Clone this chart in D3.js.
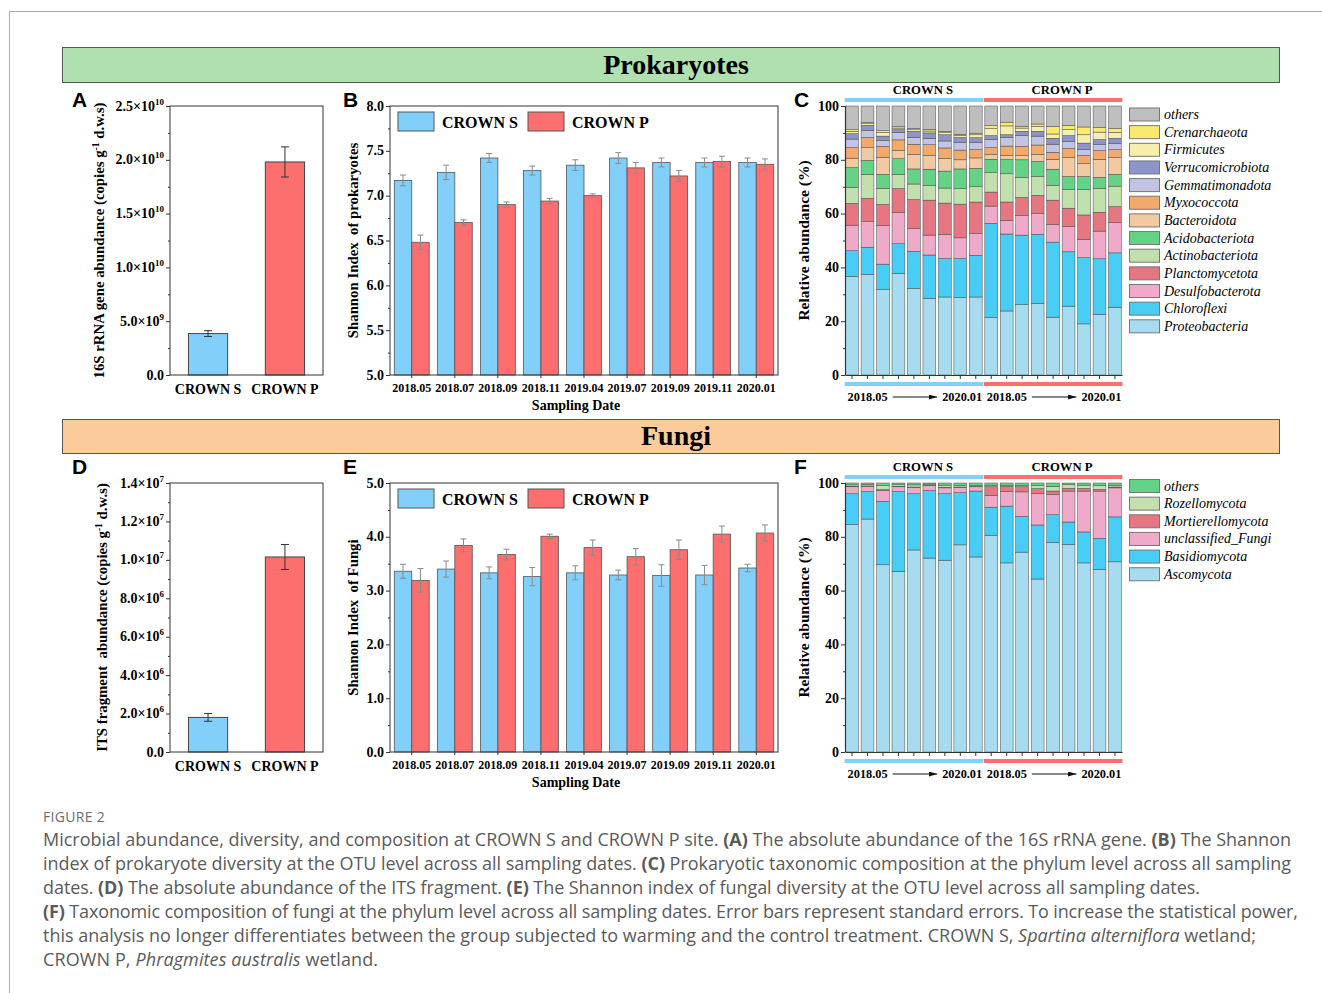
<!DOCTYPE html>
<html>
<head>
<meta charset="utf-8">
<script src="https://cdn.jsdelivr.net/npm/d3@7"></script>
<style>
  body { margin: 0; background: #fff; }
  text { white-space: pre; }
</style>
</head>
<body>
<svg id="fig" width="1322" height="993"></svg>
<script>
// ---- data ----
const sites = ["CROWN S", "CROWN P"];
const dates = ["2018.05", "2018.07", "2018.09", "2018.11", "2019.04", "2019.07", "2019.09", "2019.11", "2020.01"];

// A: 16S rRNA gene abundance
const prokAbund = [3.85e9, 1.98e10];
const prokAbundErr = [0.27e9, 0.14e10];
const prokAbundTicks = [0, 5e9, 1e10, 1.5e10, 2e10, 2.5e10];
const prokAbundLabels = [["0.0", ""], ["5.0×10", "9"], ["1.0×10", "10"], ["1.5×10", "10"], ["2.0×10", "10"], ["2.5×10", "10"]];

// D: ITS fragment abundance
const fungAbund = [1.8e6, 1.015e7];
const fungAbundErr = [0.2e6, 0.065e7];
const fungAbundTicks = [0, 2e6, 4e6, 6e6, 8e6, 1e7, 1.2e7, 1.4e7];
const fungAbundLabels = [["0.0", ""], ["2.0×10", "6"], ["4.0×10", "6"], ["6.0×10", "6"], ["8.0×10", "6"], ["1.0×10", "7"], ["1.2×10", "7"], ["1.4×10", "7"]];

// B: Shannon index, prokaryotes
const prokShannonS = [7.17, 7.26, 7.42, 7.28, 7.34, 7.42, 7.37, 7.37, 7.37];
const prokShannonSErr = [0.06, 0.08, 0.05, 0.05, 0.06, 0.06, 0.05, 0.05, 0.05];
const prokShannonP = [6.48, 6.70, 6.90, 6.94, 7.00, 7.31, 7.22, 7.38, 7.35];
const prokShannonPErr = [0.08, 0.03, 0.03, 0.03, 0.02, 0.06, 0.06, 0.06, 0.06];
const prokShannonTicks = [5.0, 5.5, 6.0, 6.5, 7.0, 7.5, 8.0];

// E: Shannon index, fungi
const fungShannonS = [3.36, 3.40, 3.33, 3.26, 3.33, 3.29, 3.28, 3.29, 3.42];
const fungShannonSErr = [0.13, 0.15, 0.11, 0.17, 0.13, 0.09, 0.20, 0.18, 0.07];
const fungShannonP = [3.19, 3.84, 3.67, 4.01, 3.80, 3.63, 3.76, 4.05, 4.07];
const fungShannonPErr = [0.22, 0.12, 0.10, 0.04, 0.14, 0.15, 0.18, 0.15, 0.15];
const fungShannonTicks = [0, 1, 2, 3, 4, 5];

// C: prokaryotic phyla (%), 9 CROWN S samples then 9 CROWN P samples
const prokTaxa = ["Proteobacteria", "Chloroflexi", "Desulfobacterota", "Planctomycetota", "Actinobacteriota", "Acidobacteriota",
  "Bacteroidota", "Myxococcota", "Gemmatimonadota", "Verrucomicrobiota", "Firmicutes", "Crenarchaeota", "others"];
const proteobacteria = [36.7, 37.4, 31.7, 37.8, 32.2, 28.5, 29.0, 28.8, 29.0, 21.4, 23.8, 26.2, 26.6, 21.5, 25.6, 19.0, 22.6, 25.2];
const chloroflexi = [9.5, 10.1, 9.5, 11.0, 13.8, 16.1, 14.3, 14.5, 15.5, 35.0, 28.6, 25.8, 25.7, 27.9, 20.2, 24.6, 20.6, 20.2];
const desulfobacterota = [9.5, 9.5, 14.4, 11.6, 8.5, 7.4, 9.0, 7.7, 8.1, 6.4, 5.1, 7.3, 7.7, 6.6, 9.4, 6.8, 10.3, 11.2];
const planctomycetota = [8.1, 8.7, 7.8, 8.9, 10.7, 13.0, 11.6, 12.5, 11.7, 5.2, 6.8, 6.7, 6.8, 9.0, 6.8, 9.1, 7.0, 6.0];
const actinobacteriota = [6.0, 8.9, 6.0, 5.3, 5.8, 5.5, 5.6, 5.8, 5.7, 7.2, 10.5, 7.5, 7.0, 5.5, 7.0, 9.5, 8.9, 7.6];
const acidobacteriota = [7.3, 5.2, 5.2, 5.8, 5.6, 6.0, 6.3, 7.3, 6.8, 5.0, 5.3, 6.5, 5.6, 6.0, 4.8, 4.8, 4.1, 4.4];
const bacteroidota = [3.5, 4.7, 6.3, 3.1, 5.4, 5.1, 4.7, 3.4, 3.9, 1.8, 1.5, 1.6, 2.6, 3.7, 7.0, 4.8, 6.7, 6.2];
const myxococcota = [3.9, 3.8, 4.1, 3.9, 3.8, 4.0, 3.9, 3.6, 3.1, 2.5, 3.5, 3.4, 3.5, 2.6, 3.4, 3.0, 3.2, 3.0];
const gemmatimonadota = [3.2, 2.5, 2.2, 2.8, 2.4, 2.4, 2.6, 2.9, 2.7, 3.1, 3.2, 4.0, 3.3, 3.0, 2.6, 2.2, 2.2, 2.2];
const verrucomicrobiota = [2.0, 2.0, 1.6, 1.0, 2.4, 2.0, 2.3, 1.8, 1.7, 1.4, 1.0, 1.6, 1.8, 2.2, 2.2, 2.4, 1.9, 2.0];
const firmicutes = [0.9, 0.6, 1.4, 0.6, 0.6, 0.7, 0.8, 0.7, 1.1, 2.6, 3.3, 1.2, 1.8, 1.6, 2.2, 3.1, 2.8, 2.2];
const crenarchaeota = [0.6, 0.4, 0.6, 0.5, 0.4, 0.6, 0.5, 0.5, 0.6, 1.1, 1.4, 0.7, 0.9, 2.8, 1.6, 2.9, 1.7, 1.4];
const prokOthers = [8.8, 6.2, 9.2, 7.7, 8.4, 8.7, 9.4, 10.5, 10.1, 7.3, 6.0, 7.5, 6.7, 7.6, 7.2, 7.8, 8.0, 8.4];

// F: fungal phyla (%)
const fungTaxa = ["Ascomycota", "Basidiomycota", "unclassified_Fungi", "Mortierellomycota", "Rozellomycota", "others"];
const ascomycota = [84.6, 86.6, 69.6, 67.2, 75.1, 72.1, 71.3, 77.0, 72.5, 80.6, 70.3, 74.3, 64.3, 77.9, 77.2, 70.3, 67.9, 70.7];
const basidiomycota = [11.4, 10.2, 23.6, 29.6, 20.9, 25.1, 24.7, 19.4, 24.5, 10.4, 21.1, 13.3, 20.1, 10.3, 8.3, 11.5, 11.5, 16.7];
const unclassifiedFungi = [2.6, 2.0, 4.0, 1.8, 2.3, 1.8, 2.2, 2.0, 1.6, 4.4, 5.4, 9.1, 11.6, 7.6, 11.5, 15.2, 17.6, 10.8];
const mortierellomycota = [0.2, 0.1, 0.3, 0.2, 0.2, 0.2, 0.2, 0.1, 0.1, 3.2, 1.9, 1.9, 1.9, 1.2, 1.0, 1.0, 0.6, 0.3];
const rozellomycota = [0.5, 0.5, 1.5, 0.6, 0.8, 0.4, 0.8, 0.5, 0.3, 0.4, 0.4, 0.4, 1.1, 1.8, 1.4, 1.2, 1.4, 0.7];
const fungOthers = [0.7, 0.6, 1.0, 0.6, 0.7, 0.4, 0.8, 1.0, 1.0, 1.0, 0.9, 1.0, 1.0, 1.2, 0.6, 0.8, 1.0, 0.8];

const prokSeries = [proteobacteria, chloroflexi, desulfobacterota, planctomycetota, actinobacteriota, acidobacteriota,
  bacteroidota, myxococcota, gemmatimonadota, verrucomicrobiota, firmicutes, crenarchaeota, prokOthers];
const fungSeries = [ascomycota, basidiomycota, unclassifiedFungi, mortierellomycota, rozellomycota, fungOthers];

// ---- styles ----
const serif = "'Liberation Serif','Times New Roman',serif";
const sans = "'Liberation Sans',Arial,sans-serif";
const siteColor = {"CROWN S": "#82cffa", "CROWN P": "#fd6e6e"};
const prokColors = ["#a6dbf0", "#48cdf6", "#eeaac8", "#e57682", "#c2dfae", "#64d386",
  "#f2c9a1", "#f3a96b", "#c3c4e3", "#8c94c9", "#f6eeab", "#fbe86f", "#bebebe"];
const fungColors = ["#a6dbf0", "#48cdf6", "#eeaac8", "#e57682", "#c2dfae", "#64d386"];

const svg = d3.select("#fig");

// outer frame
svg.append("path").attr("d", "M9.5,993V11.5H1322").attr("fill", "none").attr("stroke", "#a8a8a8");

// section headers
function header(y, h, fill, label) {
  svg.append("rect").attr("x", 62.5).attr("y", y + 0.5).attr("width", 1217).attr("height", h)
    .attr("fill", fill).attr("stroke", "#555");
  svg.append("text").attr("x", 676).attr("y", y + h / 2 + 9).attr("text-anchor", "middle")
    .attr("font-family", serif).attr("font-weight", "bold").attr("font-size", 28).text(label);
}
header(47, 35, "#b0dfb0", "Prokaryotes");
header(419, 34, "#fbcb9c", "Fungi");

function letter(x, y, s) {
  svg.append("text").attr("x", x).attr("y", y).attr("font-family", sans).attr("font-weight", "bold")
    .attr("font-size", 21).text(s);
}

function leftAxis(g, y, x0, ticks, labels, minor) {
  const ax = g.append("g").attr("transform", `translate(${x0},0)`)
    .call(d3.axisLeft(y).tickValues(ticks).tickSize(4).tickFormat(""));
  ax.select(".domain").remove();
  ax.selectAll("line").attr("stroke", "#333");
  const mi = g.append("g").attr("transform", `translate(${x0},0)`)
    .call(d3.axisLeft(y).tickValues(minor).tickSize(2).tickFormat(""));
  mi.select(".domain").remove();
  mi.selectAll("line").attr("stroke", "#333");
  ticks.forEach((v, i) => {
    const t = g.append("text").attr("x", x0 - 6).attr("y", y(v) + 4.5).attr("text-anchor", "end")
      .attr("font-family", serif).attr("font-weight", "bold").attr("font-size", 14);
    t.append("tspan").text(labels[i][0]);
    if (labels[i][1]) t.append("tspan").attr("dy", -6).attr("font-size", 9).text(labels[i][1]);
  });
}

function yTitle(g, x, yc, parts, size) {
  const t = g.append("text").attr("transform", `translate(${x},${yc}) rotate(-90)`).attr("text-anchor", "middle")
    .attr("font-family", serif).attr("font-weight", "bold").attr("font-size", size);
  parts.forEach(p => {
    if (p.sup) t.append("tspan").attr("dy", -5).attr("font-size", size * 0.65).text(p.sup);
    else t.append("tspan").attr("dy", p.down ? 5 : 0).text(p.t);
  });
}

function errorBar(g, cx, y, v, e, w, color) {
  g.append("path")
    .attr("d", `M${cx - w / 2},${y(v + e)}H${cx + w / 2}M${cx},${y(v + e)}V${y(v - e)}M${cx - w / 2},${y(v - e)}H${cx + w / 2}`)
    .attr("fill", "none").attr("stroke", color).attr("stroke-width", 1);
}

// ---- A / D : absolute abundance ----
function abundancePanel(p, vals, errs, ticks, labels, step, title) {
  const g = svg.append("g");
  const y = d3.scaleLinear().domain([0, ticks[ticks.length - 1]]).range([p.y1, p.y0]);
  const x = d3.scaleBand().domain(sites).range([p.x0, p.x1]).paddingInner(0.49).paddingOuter(0.24);
  g.selectAll(".bar").data(sites).join("rect")
    .attr("x", d => x(d)).attr("width", x.bandwidth())
    .attr("y", (d, i) => y(vals[i])).attr("height", (d, i) => y(0) - y(vals[i]))
    .attr("fill", d => siteColor[d]).attr("stroke", "#444").attr("stroke-width", 1);
  sites.forEach((s, i) => errorBar(g, x(s) + x.bandwidth() / 2, y, vals[i], errs[i], 8, "#333"));
  g.append("rect").attr("x", p.x0).attr("y", p.y0).attr("width", p.x1 - p.x0).attr("height", p.y1 - p.y0)
    .attr("fill", "none").attr("stroke", "#333").attr("stroke-width", 1);
  const minor = d3.range(step / 2, ticks[ticks.length - 1], step);
  leftAxis(g, y, p.x0, ticks, labels, minor);
  sites.forEach(s => g.append("text").attr("x", x(s) + x.bandwidth() / 2).attr("y", p.y1 + 19)
    .attr("text-anchor", "middle").attr("font-family", serif).attr("font-weight", "bold").attr("font-size", 14).text(s));
  yTitle(g, p.tx, (p.y0 + p.y1) / 2, title, 14.8);
}

// ---- B / E : Shannon index ----
function shannonPanel(p, sVals, sErr, pVals, pErr, ticks, title) {
  const g = svg.append("g");
  const y = d3.scaleLinear().domain([ticks[0], ticks[ticks.length - 1]]).range([p.y1, p.y0]);
  const x = d3.scaleBand().domain(dates).range([p.x0, p.x1]).paddingInner(0.19).paddingOuter(0.1);
  const xi = d3.scaleBand().domain(sites).range([0, x.bandwidth()]);
  const series = [sVals, pVals], errs = [sErr, pErr];
  sites.forEach((s, k) => {
    g.selectAll(null).data(dates).join("rect")
      .attr("x", d => x(d) + xi(s)).attr("width", xi.bandwidth())
      .attr("y", (d, i) => y(series[k][i])).attr("height", (d, i) => y(ticks[0]) - y(series[k][i]))
      .attr("fill", siteColor[s]).attr("stroke", "#555").attr("stroke-width", 0.8);
  });
  sites.forEach((s, k) => dates.forEach((d, i) =>
    errorBar(g, x(d) + xi(s) + xi.bandwidth() / 2, y, series[k][i], errs[k][i], 6, "#8a8a8a")));
  g.append("rect").attr("x", p.x0).attr("y", p.y0).attr("width", p.x1 - p.x0).attr("height", p.y1 - p.y0)
    .attr("fill", "none").attr("stroke", "#333").attr("stroke-width", 1);
  const stepT = ticks[1] - ticks[0];
  const minor = d3.range(ticks[0] + stepT / 2, ticks[ticks.length - 1], stepT);
  leftAxis(g, y, p.x0, ticks, ticks.map(v => [v.toFixed(1), ""]), minor);
  const bx = g.append("g").attr("transform", `translate(0,${p.y1})`)
    .call(d3.axisBottom(x).tickSize(3).tickSizeOuter(0).tickFormat(""));
  bx.select(".domain").remove();
  bx.selectAll("line").attr("stroke", "#333");
  dates.forEach(d => g.append("text").attr("x", x(d) + x.bandwidth() / 2).attr("y", p.y1 + 17)
    .attr("text-anchor", "middle").attr("font-family", serif).attr("font-weight", "bold").attr("font-size", 12).text(d));
  g.append("text").attr("x", (p.x0 + p.x1) / 2 - 8).attr("y", p.y1 + 35).attr("text-anchor", "middle")
    .attr("font-family", serif).attr("font-weight", "bold").attr("font-size", 14).text("Sampling Date");
  yTitle(g, p.tx, (p.y0 + p.y1) / 2, title, 14.8);
  // legend
  sites.forEach((s, k) => {
    const lx = p.x0 + 8 + k * 130;
    g.append("rect").attr("x", lx).attr("y", p.y0 + 6).attr("width", 36).attr("height", 19)
      .attr("fill", siteColor[s]).attr("stroke", "#555").attr("stroke-width", 1);
    g.append("text").attr("x", lx + 44).attr("y", p.y0 + 22).attr("font-family", serif)
      .attr("font-weight", "bold").attr("font-size", 16).text(s);
  });
}

// ---- C / F : stacked composition ----
function stackPanel(p, taxa, series, colors, legendY) {
  const g = svg.append("g");
  const n = series[0].length;
  const rows = d3.range(n).map(i => {
    const r = {};
    taxa.forEach((t, k) => r[t] = series[k][i]);
    return r;
  });
  const stacked = d3.stack().keys(taxa)(rows);
  const x = d3.scaleBand().domain(d3.range(n)).range([p.x0, p.x1]).paddingInner(0.17).paddingOuter(0.04);
  const y = d3.scaleLinear().domain([0, 100]).range([p.y1, p.y0]).clamp(true);
  stacked.forEach((layer, k) => {
    g.selectAll(null).data(layer).join("rect")
      .attr("x", (d, i) => x(i)).attr("width", x.bandwidth())
      .attr("y", d => y(d[1])).attr("height", d => y(d[0]) - y(d[1]))
      .attr("fill", colors[k]).attr("stroke", "#4a4a4a").attr("stroke-width", 0.5);
  });
  // axes
  leftAxis(g, y, p.x0, [0, 20, 40, 60, 80, 100], [0, 20, 40, 60, 80, 100].map(v => [String(v), ""]), [10, 30, 50, 70, 90]);
  g.append("line").attr("x1", p.x0 + 0.5).attr("x2", p.x0 + 0.5).attr("y1", p.y0).attr("y2", p.y1)
    .attr("stroke", "#333").attr("stroke-width", 1.2);
  const bx = g.append("g").attr("transform", `translate(0,${p.y1})`)
    .call(d3.axisBottom(x).tickSize(4).tickSizeOuter(0).tickFormat(""));
  bx.select(".domain").attr("stroke", "#333").attr("stroke-width", 1.2);
  bx.selectAll("line").attr("stroke", "#333");
  yTitle(g, p.tx, (p.y0 + p.y1) / 2, [{t: "Relative abundance (%)"}], 15.5);
  // site bands above and below
  const half = n / 2;
  sites.forEach((s, k) => {
    const xa = x(k * half) - 1, xb = x(k * half + half - 1) + x.bandwidth() + 1;
    [p.y0 - 8, p.y1 + 7].forEach(yy => g.append("rect").attr("x", xa).attr("y", yy).attr("width", xb - xa).attr("height", 4)
      .attr("fill", siteColor[s]));
    g.append("text").attr("x", (xa + xb) / 2 + 9).attr("y", p.y0 - 12).attr("text-anchor", "middle")
      .attr("font-family", serif).attr("font-weight", "bold").attr("font-size", 12.7).text(s);
    const ty = p.y1 + 26;
    g.append("text").attr("x", xa + 3).attr("y", ty).attr("font-family", serif).attr("font-weight", "bold")
      .attr("font-size", 12.3).text(dates[0]);
    g.append("text").attr("x", xb - 1).attr("y", ty).attr("text-anchor", "end").attr("font-family", serif)
      .attr("font-weight", "bold").attr("font-size", 12.3).text(dates[dates.length - 1]);
    g.append("line").attr("x1", xa + 48).attr("x2", xb - 46).attr("y1", ty - 4).attr("y2", ty - 4)
      .attr("stroke", "#111").attr("stroke-width", 1).attr("marker-end", "url(#arrow)");
  });
  // legend (top to bottom = others first)
  const items = taxa.map((t, k) => ({t, c: colors[k]})).reverse();
  items.forEach((it, j) => {
    const yy = legendY + j * 17.65;
    g.append("rect").attr("x", 1129.5).attr("y", yy - 6.5).attr("width", 30).attr("height", 13)
      .attr("fill", it.c).attr("stroke", "#777").attr("stroke-width", 1);
    g.append("text").attr("x", 1164).attr("y", yy + 4.5).attr("font-family", serif).attr("font-style", "italic")
      .attr("font-size", 14).text(it.t);
  });
}

svg.append("defs").append("marker").attr("id", "arrow").attr("viewBox", "0 0 10 6").attr("refX", 10).attr("refY", 3)
  .attr("markerWidth", 9).attr("markerHeight", 5).attr("markerUnits", "userSpaceOnUse").attr("orient", "auto")
  .append("path").attr("d", "M0,0L10,3L0,6Z").attr("fill", "#111");

abundancePanel({x0: 170, x1: 323, y0: 106, y1: 375, tx: 104}, prokAbund, prokAbundErr, prokAbundTicks, prokAbundLabels, 5e9,
  [{t: "16S rRNA gene abundance (copies g"}, {sup: "-1"}, {t: " d.w.s)", down: true}]);
abundancePanel({x0: 170, x1: 323, y0: 483, y1: 752, tx: 107}, fungAbund, fungAbundErr, fungAbundTicks, fungAbundLabels, 2e6,
  [{t: "ITS fragment  abundance (copies g"}, {sup: "-1"}, {t: " d.w.s)", down: true}]);
shannonPanel({x0: 390, x1: 778, y0: 106, y1: 375, tx: 358}, prokShannonS, prokShannonSErr, prokShannonP, prokShannonPErr,
  prokShannonTicks, [{t: "Shannon Index  of prokaryotes"}]);
shannonPanel({x0: 390, x1: 778, y0: 483, y1: 752, tx: 358}, fungShannonS, fungShannonSErr, fungShannonP, fungShannonPErr,
  fungShannonTicks, [{t: "Shannon Index  of Fungi"}]);
stackPanel({x0: 845, x1: 1122, y0: 106, y1: 375, tx: 809}, prokTaxa, prokSeries, prokColors, 114.5);
stackPanel({x0: 845, x1: 1122, y0: 483, y1: 752, tx: 809}, fungTaxa, fungSeries, fungColors, 486);

letter(72, 107, "A"); letter(343, 107, "B"); letter(794, 107, "C");
letter(72, 474, "D"); letter(343, 474, "E"); letter(794, 474, "F");

// ---- caption ----
svg.append("text").attr("x", 43).attr("y", 822).attr("font-family", "'Open Sans',sans-serif").attr("font-size", 14)
  .attr("letter-spacing", 0.3).attr("fill", "#6b6b6b").text("FIGURE 2");
const captionLines = [
  [["Microbial abundance, diversity, and composition at CROWN S and CROWN P site. "], ["(A)", "b"], [" The absolute abundance of the 16S rRNA gene. "], ["(B)", "b"], [" The Shannon"]],
  [["index of prokaryote diversity at the OTU level across all sampling dates. "], ["(C)", "b"], [" Prokaryotic taxonomic composition at the phylum level across all sampling"]],
  [["dates. "], ["(D)", "b"], [" The absolute abundance of the ITS fragment. "], ["(E)", "b"], [" The Shannon index of fungal diversity at the OTU level across all sampling dates."]],
  [["(F)", "b"], [" Taxonomic composition of fungi at the phylum level across all sampling dates. Error bars represent standard errors. To increase the statistical power,"]],
  [["this analysis no longer differentiates between the group subjected to warming and the control treatment. CROWN S, "], ["Spartina alterniflora", "i"], [" wetland;"]],
  [["CROWN P, "], ["Phragmites australis", "i"], [" wetland."]]
];
// line widths as set in the reference page
const captionWidths = [1248, 1248, 1157, 1255, 1213, 335];
const cap = svg.append("g").attr("font-family", "'Open Sans',sans-serif").attr("font-size", 17.5).attr("fill", "#5a5a5a");
const capTexts = captionLines.map((segs, li) => {
  const t = cap.append("text").attr("x", 43).attr("y", 846 + li * 24);
  segs.forEach(([s, st]) => {
    const ts = t.append("tspan").text(s);
    if (st === "b") ts.attr("font-weight", "bold");
    if (st === "i") ts.attr("font-style", "italic");
  });
  return t;
});
const w0 = capTexts[0].node().getComputedTextLength();
cap.attr("font-size", 17.5 * 1248 / w0);
capTexts.forEach((t, i) => t.attr("textLength", captionWidths[i]).attr("lengthAdjust", "spacing"));
</script>
</body>
</html>
